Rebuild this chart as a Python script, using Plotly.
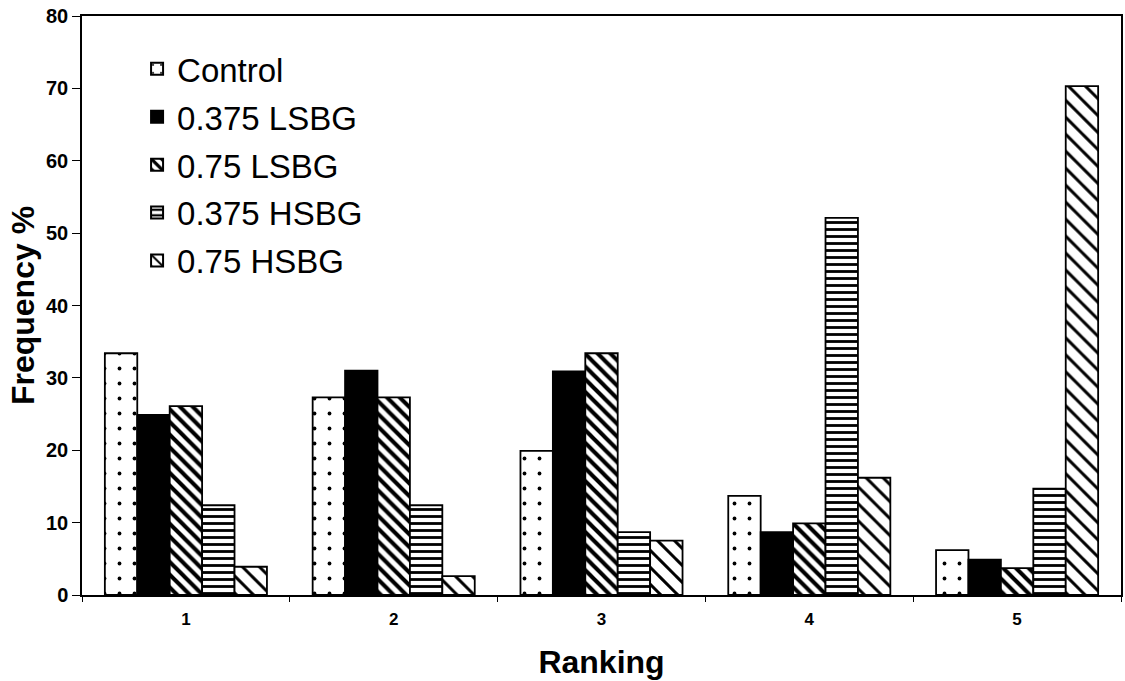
import plotly.graph_objects as go

rankings = ["1", "2", "3", "4", "5"]
series_names = ["Control", "0.375 LSBG", "0.75 LSBG", "0.375 HSBG", "0.75 HSBG"]
control = [33.4, 27.3, 19.9, 13.7, 6.2]
lsbg_0375 = [24.9, 31.0, 30.9, 8.7, 4.9]
lsbg_075 = [26.1, 27.3, 33.4, 9.9, 3.7]
hsbg_0375 = [12.4, 12.4, 8.7, 52.1, 14.7]
hsbg_075 = [3.9, 2.6, 7.5, 16.2, 70.3]
y_ticks = [0, 10, 20, 30, 40, 50, 60, 70, 80]

values = [control, lsbg_0375, lsbg_075, hsbg_0375, hsbg_075]
styles = [
    dict(color="white", pattern=dict(shape=".", size=15, solidity=0.05, fgcolor="black", bgcolor="white", fillmode="replace")),
    dict(color="black"),
    dict(color="white", pattern=dict(shape="\\", size=9, solidity=0.45, fgcolor="black", bgcolor="white", fillmode="replace")),
    dict(color="white", pattern=dict(shape="-", size=7, solidity=0.4, fgcolor="black", bgcolor="white", fillmode="replace")),
    dict(color="white", pattern=dict(shape="\\", size=12, solidity=0.25, fgcolor="black", bgcolor="white", fillmode="replace")),
]

fig = go.Figure()
for i, (name, vals, st) in enumerate(zip(series_names, values, styles)):
    marker = dict(color=st["color"], line=dict(color="black", width=1.8))
    if "pattern" in st:
        marker["pattern"] = st["pattern"]
    fig.add_trace(go.Bar(name=name, x=rankings, y=vals, marker=marker, legendgroup=f"g{i}"))

font_family = "Liberation Sans, Arial, sans-serif"
fig.update_layout(
    width=1125, height=681,
    margin=dict(l=82, r=2, t=16, b=86),
    paper_bgcolor="white", plot_bgcolor="white",
    barmode="group", bargap=0.22, bargroupgap=0,
    font=dict(family=font_family, color="black"),
    showlegend=True,
    legend=dict(
        x=0.053, y=0.957, xanchor="left", yanchor="top",
        font=dict(size=33, family=font_family),
        bgcolor="rgba(0,0,0,0)", tracegroupgap=2, itemsizing="constant",
    ),
    xaxis=dict(
        type="category", showline=True, linecolor="black", linewidth=1.5,
        mirror=True, ticks="outside", tickson="boundaries", ticklen=5,
        tickcolor="black", tickfont=dict(size=17, family=font_family, weight="bold"),
        ticklabelstandoff=8,
        title=dict(text="<b>Ranking</b>", font=dict(size=32, family=font_family), standoff=22),
        showgrid=False,
    ),
    yaxis=dict(
        range=[0, 80], tickvals=y_ticks, showline=True, linecolor="black", linewidth=1.5,
        mirror=True, ticks="outside", ticklen=8, tickcolor="black",
        tickfont=dict(size=20, family=font_family, weight="bold"),
        title=dict(text="<b>Frequency %</b>", font=dict(size=32, family=font_family), standoff=2),
        showgrid=False, zeroline=False,
    ),
)

fig.write_html("out.html")
